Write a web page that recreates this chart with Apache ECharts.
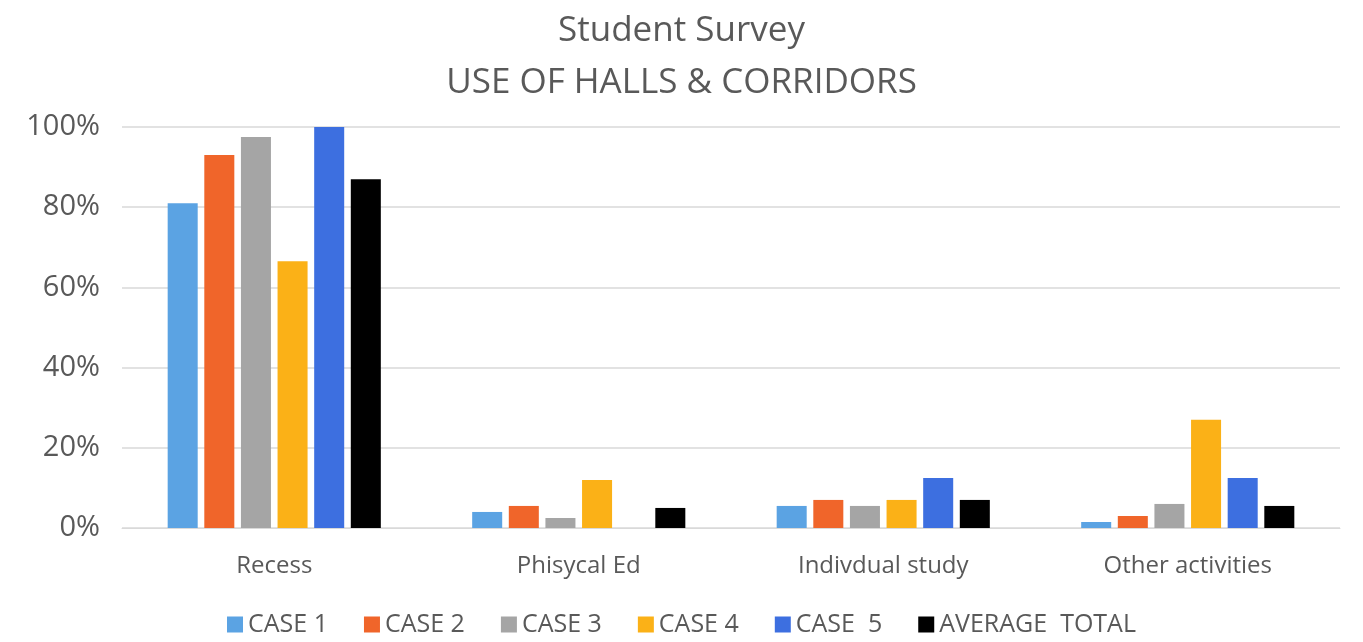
<!DOCTYPE html>
<html>
<head>
<meta charset="utf-8">
<script src="https://cdn.jsdelivr.net/npm/echarts@6/dist/echarts.min.js"></script>
<style>html,body{margin:0;padding:0;background:#fff}#chart{width:1363px;height:642px}</style>
</head>
<body>
<div id="chart"></div>
<script>
// categories and series values (percent)
var categories = ['Recess', 'Phisycal Ed', 'Indivdual study', 'Other activities'];
var seriesNames = ['CASE 1', 'CASE 2', 'CASE 3', 'CASE 4', 'CASE  5', 'AVERAGE  TOTAL'];
var case1 = [81, 4, 5.5, 1.5];
var case2 = [93, 5.5, 7, 3];
var case3 = [97.5, 2.5, 5.5, 6];
var case4 = [66.5, 12, 7, 27];
var case5 = [100, 0, 12.5, 12.5];
var average = [87, 5, 7, 5.5];
var colors = ['#5ba3e3', '#f0652a', '#a5a5a5', '#fbb117', '#3d6fe0', '#000000'];

var chart = echarts.init(document.getElementById('chart'));
var allData = [case1, case2, case3, case4, case5, average];

var series = allData.map(function (d, i) {
    return {
        name: seriesNames[i],
        type: 'bar',
        data: d,
        barGap: '22%',
        barCategoryGap: '30%',
        itemStyle: { color: colors[i] }
    };
});

chart.setOption({
    color: colors,
    title: {
        text: 'Student Survey\nUSE OF HALLS & CORRIDORS',
        left: 'center',
        top: 0,
        textStyle: { fontFamily: 'Open Sans', fontWeight: 'normal', fontSize: 35, color: '#595959', lineHeight: 52 }
    },
    legend: {
        bottom: 0,
        itemWidth: 16,
        itemHeight: 16,
        itemGap: 36,
        icon: 'rect',
        textStyle: { fontFamily: 'Open Sans', fontSize: 25, color: '#595959' },
        data: seriesNames
    },
    grid: { left: 122, right: 23, top: 127, bottom: 114 },
    xAxis: {
        type: 'category',
        data: categories,
        axisLine: { lineStyle: { color: '#d9d9d9' } },
        axisTick: { show: false },
        axisLabel: { fontFamily: 'Open Sans', fontSize: 24, color: '#595959', margin: 26 }
    },
    yAxis: {
        type: 'value',
        min: 0, max: 100, interval: 20,
        axisLabel: { formatter: '{value}%', fontFamily: 'Open Sans', fontSize: 29, color: '#595959', margin: 22 },
        splitLine: { lineStyle: { color: '#d9d9d9', width: 1.5 } }
    },
    series: series
});
</script>
</body>
</html>
